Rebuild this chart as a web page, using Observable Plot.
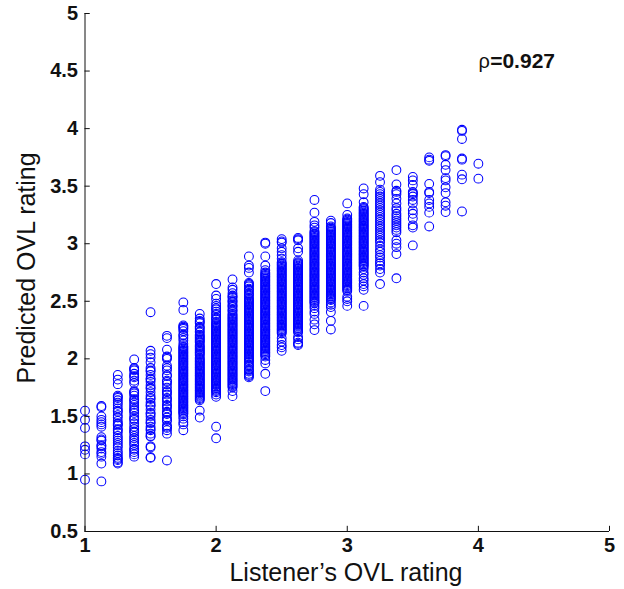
<!DOCTYPE html>
<html>
<head>
<meta charset="utf-8">
<script src="https://cdn.jsdelivr.net/npm/d3@7"></script>
<script src="https://cdn.jsdelivr.net/npm/@observablehq/plot@0.6"></script>
<style>html,body{margin:0;padding:0;background:#fff}svg{display:block}</style>
</head>
<body>
<div id="chart"></div>
<script>
const c100 = [1.55,1.47,1.40,1.24,1.21,1.17,0.95];
const c1125 = [1.59,1.58,1.50,1.47,1.45,1.43,1.41,1.32,1.30,1.29,1.25,1.24,1.22,1.19,1.175,1.15,1.09,0.935];
const c125 = [1.86,1.82,1.78,1.68,1.67,1.66,1.64,1.62,1.60,1.57,1.55,1.54,1.51,1.49,1.46,1.44,1.43,1.42,1.39,1.38,1.36,1.33,1.31,1.29,1.27,1.25,1.23,1.20,1.18,1.16,1.14,1.13,1.12,1.10,1.09];
const c1375 = [1.995,1.92,1.91,1.90,1.87,1.85,1.84,1.81,1.79,1.72,1.71,1.70,1.68,1.65,1.64,1.62,1.60,1.58,1.56,1.55,1.53,1.50,1.48,1.47,1.44,1.41,1.39,1.37,1.36,1.33,1.31,1.29,1.27,1.25,1.22,1.21,1.19,1.17,1.15];
const c150 = [2.405,2.07,2.04,2.01,1.97,1.92,1.90,1.89,1.86,1.83,1.82,1.80,1.77,1.75,1.74,1.71,1.68,1.66,1.65,1.62,1.60,1.59,1.56,1.53,1.52,1.50,1.47,1.45,1.44,1.41,1.39,1.38,1.35,1.33,1.325,1.24,1.23,1.146,1.14];
const c1625 = [2.20,2.18,2.08,2.02,2.01,2.00,1.94,1.92,1.90,1.86,1.85,1.81,1.80,1.78,1.75,1.72,1.71,1.69,1.66,1.65,1.63,1.60,1.59,1.57,1.54,1.53,1.52,1.49,1.47,1.46,1.42,1.41,1.40,1.38,1.35,1.117];
const c175 = [2.49,2.425,2.29,2.28,2.27,2.26,2.24,2.21,2.20,2.18,2.16,2.13,2.11,2.09,2.07,2.05,2.03,2.01,1.99,1.97,1.95,1.93,1.91,1.89,1.87,1.85,1.83,1.81,1.79,1.77,1.75,1.73,1.71,1.69,1.67,1.65,1.63,1.61,1.59,1.57,1.55,1.53,1.50,1.48,1.45,1.43,1.38];
const c175b = [2.10,2.08,2.06,2.04,2.02,2.00,1.98,1.96,1.94,1.92,1.90,1.88,1.86,1.84,1.82,1.80,1.78,1.76,1.74,1.72,1.70,1.68,1.66,1.64,1.62,1.60,1.58,1.56,1.54,1.52];
const c1875 = [2.39,2.35,2.33,2.31,2.28,2.26,2.24,2.21,2.19,2.17,2.15,2.12,2.10,2.08,2.06,2.04,2.01,1.99,1.97,1.95,1.93,1.91,1.89,1.87,1.85,1.83,1.81,1.79,1.77,1.75,1.73,1.71,1.69,1.67,1.65,1.64,1.55,1.49];
const c1875b = [2.32,2.27,2.23,2.20,2.18,2.16,2.14,2.11,2.09,2.07,2.05,2.03,2.00,1.98,1.96,1.94,1.92,1.90,1.88,1.86,1.84,1.82,1.80,1.78,1.76,1.74,1.72,1.70,1.68,1.66];
const c200 = [2.65,2.55,2.52,2.48,2.46,2.43,2.41,2.38,2.36,2.34,2.31,2.29,2.27,2.25,2.23,2.21,2.19,2.17,2.15,2.13,2.11,2.09,2.07,2.05,2.03,2.01,1.99,1.97,1.95,1.93,1.91,1.89,1.87,1.85,1.83,1.81,1.79,1.77,1.75,1.73,1.71,1.69,1.67,1.41,1.31];
const c200b = [2.44,2.39,2.35,2.32,2.30,2.28,2.26,2.24,2.22,2.20,2.18,2.16,2.14,2.12,2.10,2.08,2.06,2.04,2.02,2.00,1.98,1.96,1.94,1.92,1.90,1.88,1.86,1.84,1.82,1.80,1.78,1.76,1.74,1.72];
const c2125 = [2.69,2.62,2.60,2.57,2.55,2.53,2.51,2.49,2.47,2.45,2.43,2.41,2.39,2.37,2.35,2.33,2.31,2.29,2.27,2.25,2.23,2.21,2.19,2.17,2.15,2.13,2.11,2.09,2.07,2.05,2.03,2.01,1.99,1.97,1.95,1.93,1.91,1.89,1.87,1.85,1.83,1.81,1.79,1.77,1.75,1.72,1.676];
const c2125b = [2.54,2.50,2.46,2.42,2.38,2.36,2.34,2.32,2.30,2.28,2.26,2.24,2.22,2.20,2.18,2.16,2.14,2.12,2.10,2.08,2.06,2.04,2.02,2.00,1.98,1.96,1.94,1.92,1.90,1.88,1.86,1.84,1.82,1.80,1.78,1.76];
const c225 = [2.89,2.81,2.79,2.75,2.66,2.65,2.63,2.61,2.59,2.57,2.55,2.53,2.51,2.49,2.47,2.45,2.43,2.41,2.39,2.37,2.35,2.33,2.31,2.29,2.27,2.25,2.23,2.21,2.19,2.17,2.15,2.13,2.11,2.09,2.07,2.05,2.03,2.01,1.99,1.97,1.95,1.93,1.91,1.89,1.87,1.85,1.84];
const c225b = [2.64,2.60,2.56,2.52,2.50,2.48,2.46,2.44,2.42,2.40,2.38,2.36,2.34,2.32,2.30,2.28,2.26,2.24,2.22,2.20,2.18,2.16,2.14,2.12,2.10,2.08,2.06,2.04,2.02,2.00,1.98,1.94,1.90,1.86];
const c2375 = [3.01,3.00,2.89,2.81,2.77,2.75,2.73,2.71,2.69,2.67,2.65,2.63,2.61,2.59,2.57,2.55,2.53,2.51,2.49,2.47,2.45,2.43,2.41,2.39,2.37,2.35,2.33,2.31,2.29,2.27,2.25,2.23,2.21,2.19,2.17,2.15,2.13,2.11,2.09,2.07,2.05,2.03,2.02,1.99,1.96,1.87,1.72];
const c2375b = [2.74,2.72,2.70,2.68,2.66,2.64,2.62,2.60,2.58,2.56,2.54,2.52,2.50,2.48,2.46,2.44,2.42,2.40,2.38,2.36,2.34,2.32,2.30,2.28,2.26,2.24,2.22,2.20,2.18,2.16,2.14,2.12,2.10,2.08,2.06,2.04];
const c250 = [3.04,3.02,3.01,2.96,2.93,2.90,2.87,2.84,2.82,2.80,2.78,2.76,2.74,2.72,2.70,2.68,2.66,2.64,2.62,2.60,2.58,2.56,2.54,2.52,2.50,2.48,2.46,2.44,2.42,2.40,2.38,2.36,2.34,2.32,2.30,2.28,2.26,2.24,2.22,2.18,2.15,2.12,2.10,2.07];
const c250b = [2.83,2.81,2.79,2.77,2.75,2.73,2.71,2.69,2.67,2.65,2.63,2.61,2.59,2.57,2.55,2.53,2.51,2.49,2.47,2.45,2.43,2.41,2.39,2.37,2.35,2.33,2.31,2.29,2.27,2.25,2.23];
const c2625 = [3.05,3.04,3.03,2.96,2.93,2.855,2.83,2.81,2.79,2.77,2.75,2.73,2.71,2.69,2.67,2.65,2.63,2.61,2.59,2.57,2.55,2.53,2.51,2.49,2.47,2.45,2.43,2.41,2.39,2.37,2.35,2.33,2.31,2.29,2.27,2.25,2.23,2.19,2.17,2.14,2.13,2.12];
const c2625b = [2.84,2.82,2.80,2.78,2.76,2.74,2.72,2.70,2.68,2.66,2.64,2.62,2.60,2.58,2.56,2.54,2.52,2.50,2.48,2.46,2.44,2.42,2.40,2.38,2.36,2.34,2.32,2.30,2.28,2.26,2.24];
const c275 = [3.38,3.27,3.19,3.16,3.14,3.11,3.09,3.07,3.05,3.03,3.01,2.99,2.97,2.95,2.93,2.91,2.89,2.87,2.85,2.83,2.81,2.79,2.77,2.75,2.73,2.71,2.69,2.67,2.65,2.63,2.61,2.59,2.57,2.55,2.53,2.51,2.49,2.46,2.44,2.41,2.39,2.34,2.30,2.25];
const c275b = [3.10,3.08,3.06,3.04,3.02,3.00,2.98,2.96,2.94,2.92,2.90,2.88,2.86,2.84,2.82,2.80,2.78,2.76,2.74,2.72,2.70,2.68,2.66,2.64,2.62,2.60,2.58,2.56,2.54,2.52,2.50,2.48];
const c2875 = [3.20,3.18,3.15,3.13,3.11,3.09,3.07,3.05,3.03,3.01,2.99,2.97,2.95,2.93,2.91,2.89,2.87,2.85,2.83,2.81,2.79,2.77,2.75,2.73,2.71,2.69,2.67,2.65,2.63,2.61,2.59,2.57,2.55,2.53,2.51,2.49,2.47,2.45,2.406,2.33,2.255];
const c2875b = [3.14,3.12,3.10,3.08,3.06,3.04,3.02,3.00,2.98,2.96,2.94,2.92,2.90,2.88,2.86,2.84,2.82,2.80,2.78,2.76,2.74,2.72,2.70,2.68,2.66,2.64,2.62,2.60,2.58,2.56,2.54,2.52];
const c300 = [3.35,3.25,3.22,3.20,3.18,3.16,3.14,3.12,3.10,3.08,3.06,3.04,3.02,3.00,2.98,2.96,2.94,2.92,2.90,2.88,2.86,2.84,2.82,2.80,2.78,2.76,2.74,2.72,2.70,2.68,2.66,2.64,2.62,2.60,2.59,2.54,2.52,2.50,2.46];
const c300b = [3.21,3.19,3.17,3.15,3.13,3.11,3.09,3.07,3.05,3.03,3.01,2.99,2.97,2.95,2.93,2.91,2.89,2.87,2.85,2.83,2.81,2.79,2.77,2.75,2.73,2.71,2.69,2.67,2.65,2.63,2.61];
const c3125 = [3.48,3.43,3.36,3.32,3.30,3.28,3.26,3.24,3.22,3.20,3.18,3.16,3.14,3.12,3.10,3.08,3.06,3.04,3.02,3.00,2.98,2.96,2.94,2.92,2.90,2.88,2.86,2.84,2.82,2.80,2.78,2.75,2.73,2.70,2.68,2.65,2.63,2.60,2.46];
const c3125b = [3.31,3.29,3.27,3.25,3.23,3.21,3.19,3.17,3.15,3.13,3.11,3.09,3.07,3.05,3.03,3.01,2.99,2.97,2.95,2.93,2.91,2.89,2.87,2.85,2.83,2.81];
const c325 = [3.59,3.535,3.47,3.45,3.43,3.41,3.39,3.37,3.35,3.33,3.31,3.29,3.27,3.25,3.23,3.21,3.19,3.17,3.15,3.13,3.11,3.09,3.07,3.05,3.03,3.01,2.98,2.95,2.93,2.90,2.88,2.85,2.83,2.81,2.78,2.75,2.65];
const c3375 = [3.64,3.515,3.46,3.45,3.43,3.39,3.35,3.31,3.29,3.26,3.24,3.22,3.20,3.18,3.16,3.14,3.12,3.10,3.03,3.00,2.97,2.91,2.70];
const c350 = [3.58,3.55,3.51,3.45,3.44,3.43,3.41,3.38,3.35,3.29,3.26,3.22,3.16,3.14,2.985];
const c3625 = [3.75,3.73,3.72,3.52,3.45,3.44,3.38,3.35,3.32,3.27,3.15];
const c375 = [3.77,3.76,3.686,3.64,3.57,3.55,3.49,3.44,3.36,3.33,3.275];
const c3875 = [3.99,3.98,3.91,3.74,3.73,3.60,3.56,3.28];
const c400 = [3.695,3.565];

const listenerRatings = [1,1.125,1.25,1.375,1.5,1.625,1.75,1.875,2,2.125,2.25,2.375,2.5,2.625,2.75,2.875,3,3.125,3.25,3.375,3.5,3.625,3.75,3.875,4];
const predicted = [c100,c1125,c125,c1375,c150,c1625,[...c175,...c175b],[...c1875,...c1875b],[...c200,...c200b],[...c2125,...c2125b],[...c225,...c225b],[...c2375,...c2375b],[...c250,...c250b],[...c2625,...c2625b],[...c275,...c275b],[...c2875,...c2875b],[...c300,...c300b],[...c3125,...c3125b],c325,c3375,c350,c3625,c375,c3875,c400];
const points = listenerRatings.flatMap((x, i) => predicted[i].map(y => ({x, y})));

const xTicks = [1,2,3,4,5];
const yTicks = [0.5,1,1.5,2,2.5,3,3.5,4,4.5,5];
const font = "'Liberation Sans', Arial, sans-serif";

const chart = Plot.plot({
  width: 624, height: 589,
  marginLeft: 84.5, marginRight: 15, marginTop: 13, marginBottom: 58,
  style: {fontFamily: font, background: "#fff", color: "#111"},
  x: {domain: [1,5]},
  y: {domain: [0.5,5]},
  marks: [
    Plot.dot(points, {x: "x", y: "y", r: 4.4, stroke: "#0000ff", strokeWidth: 1.05, fill: "none"}),
    Plot.ruleX([1], {y1: 0.5, y2: 5, stroke: "#111", strokeWidth: 1}),
    Plot.ruleY([0.5], {x1: 1, x2: 5, stroke: "#111", strokeWidth: 1}),
    Plot.ruleX(xTicks, {y1: 0.5, y2: 0.545, stroke: "#111", strokeWidth: 1}),
    Plot.ruleY(yTicks, {x1: 1, x2: 1.04, stroke: "#111", strokeWidth: 1}),
    Plot.axisX({ticks: xTicks, tickSize: 0, tickPadding: 6, fontSize: 20, fontWeight: "bold", label: null, tickFormat: d => String(d)}),
    Plot.axisY({ticks: yTicks, tickSize: 0, tickPadding: 7, fontSize: 20, fontWeight: "bold", label: null, tickFormat: d => String(d)}),
    Plot.text(["Listener\u2019s OVL rating"], {frameAnchor: "bottom", x: 2.99, dy: 49, fontSize: 25, fill: "#111"}),
    Plot.text(["Predicted OVL rating"], {frameAnchor: "left", textAnchor: "middle", dx: -58, y: 2.79, rotate: -90, fontSize: 25, fill: "#111"}),
    Plot.text(["\u03c1"], {x: 4.0, y: 4.585, textAnchor: "start", fontSize: 20, fill: "#111"}),
    Plot.text(["=0.927"], {x: 4.09, y: 4.585, textAnchor: "start", fontSize: 21, fontWeight: "bold", fill: "#111"})
  ]
});
document.getElementById("chart").appendChild(chart);
</script>
</body>
</html>
